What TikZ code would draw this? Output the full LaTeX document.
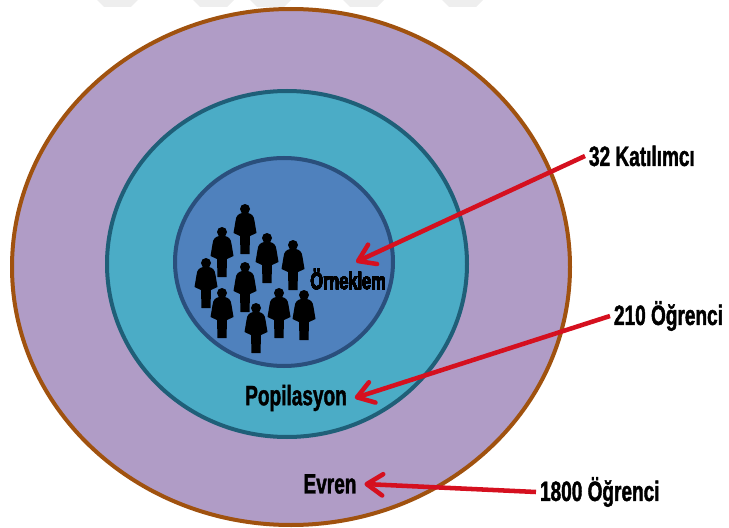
\documentclass[tikz,border=0pt]{standalone}
\usepackage{fontspec}
\setmainfont[FakeStretch=0.68,BoldFeatures={FakeBold=1.4}]{Liberation Sans}
\usepackage{tikz}
\usetikzlibrary{arrows.meta}
\tikzset{
etiket/.style={font=\bfseries\fontsize{21}{22}\selectfont, text=black, inner sep=0pt, outer sep=3pt},
okucu/.style={-{Straight Barb[round, length=12pt, width=16pt, line width=3.4pt]}, draw=oklar, line width=3.4pt},
}
\definecolor{oklar}{HTML}{D5101F}
\definecolor{evrenrenk}{HTML}{B09CC6}
\definecolor{evrencizgi}{HTML}{A0520F}
\definecolor{poprenk}{HTML}{4BACC6}
\definecolor{popcizgi}{HTML}{1F5F78}
\definecolor{orrenk}{HTML}{4F81BD}
\definecolor{orcizgi}{HTML}{2A4F7C}
\definecolor{filigran}{HTML}{EEEEEE}
\newcommand{\kisi}[2]{%
\fill[black] (#1,#2+5) circle[radius=5];
\fill[black] (#1-3,#2+9) .. controls (#1-7,#2+10) and (#1-9,#2+12) .. (#1-9.5,#2+17) -- (#1-11.5,#2+29) -- (#1-5,#2+32) -- (#1-4.5,#2+50) -- (#1+4.5,#2+50) -- (#1+5,#2+32) -- (#1+11.5,#2+29) -- (#1+9.5,#2+17) .. controls (#1+9,#2+12) and (#1+7,#2+10) .. (#1+3,#2+9) -- cycle;
}
\begin{document}
\begin{tikzpicture}[x=0.75pt,y=-0.75pt]
\useasboundingbox (0,0) rectangle (729,528);
%Watermark
\foreach \xa in {97,193,250,343,442}
  \fill[filigran] (\xa,0) -- (\xa+41,0) -- (\xa+34,7) -- (\xa+7,7) -- cycle;
%Circles
\fill[evrenrenk, draw=evrencizgi, line width=3pt] (291,267) ellipse [x radius=279, y radius=258];
\fill[poprenk, draw=popcizgi, line width=3pt] (287,264) ellipse [x radius=180, y radius=173];
\fill[orrenk, draw=orcizgi, line width=3pt] (284,262) ellipse [x radius=109, y radius=104];
%People
\foreach \px/\py in {245/204,222/227,267/233,293/240,206/258,245/262,222/288,279/288,304/290,256/303}
  \kisi{\px}{\py}
%Nodes
\node[etiket, font=\bfseries\fontsize{18}{19}\selectfont] (orneklem) at (348,279) {Örneklem};
\node[etiket, outer sep=6pt] (popilasyon) at (296,398) {Popilasyon};
\node[etiket, outer sep=6pt] (evren) at (330,484) {Evren};
\node[etiket, anchor=west] (katilimci) at (585,156) {32 Katılımcı};
\node[etiket, anchor=west] (ogrenci) at (610,316) {210 Öğrenci};
\node[etiket, anchor=west] (evrensay) at (536,492) {1800 Öğrenci};
\coordinate (hedef) at (356,262);
%Lines
\draw[okucu] (katilimci.west) -- (hedef);
\draw[okucu] (ogrenci.west) -- (popilasyon.east);
\draw[okucu] (evrensay.west) -- (evren.east);
\end{tikzpicture}
\end{document}
